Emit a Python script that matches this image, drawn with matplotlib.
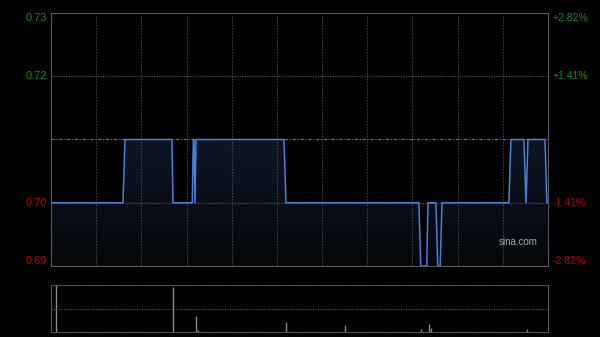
import matplotlib
matplotlib.use("Agg")
import matplotlib.pyplot as plt
import matplotlib.colors as mcolors
import numpy as np

plt.rcParams["font.family"] = ["Liberation Sans", "DejaVu Sans"]

# intraday price (minutes from open, HK session 330 min)
minutes = [0, 47.8, 49.1, 80.3, 81, 93.8, 94.5, 95.0, 95.6, 96.3, 154.7, 156,
           244.3, 245.5, 249.5, 250.3, 255.6, 256.8, 258.4, 259.6,
           304, 305.4, 314, 315.4, 316.7, 328, 329.3]
prices = [0.70, 0.70, 0.71, 0.71, 0.70, 0.70, 0.71, 0.71, 0.70, 0.71, 0.71, 0.70,
          0.70, 0.69, 0.69, 0.70, 0.70, 0.69, 0.69, 0.70,
          0.70, 0.71, 0.71, 0.70, 0.71, 0.71, 0.70]
prev_close = 0.71

vol_minutes = [3, 81, 96, 97.6, 156, 195, 246, 251, 252.4, 316]
volumes = [940, 900, 320, 40, 200, 140, 60, 170, 80, 60]

price_ticks = [0.73, 0.72, 0.70, 0.69]
n_minutes = 330

fig = plt.figure(figsize=(6, 3.37), dpi=100, facecolor="black")
ax = fig.add_axes([51 / 600, 71 / 337, 497 / 600, 253 / 337], facecolor="black")
axv = fig.add_axes([51 / 600, 5 / 337, 497 / 600, 47 / 337], facecolor="black")

# price panel: gradient fill under the line
poly = ax.fill_between(minutes, prices, 0.69, color="none", linewidth=0)
grad_cmap = mcolors.LinearSegmentedColormap.from_list("g", ["#05070a", "#0d1526"])
grad = ax.imshow(np.linspace(0, 1, 100).reshape(-1, 1), cmap=grad_cmap, aspect="auto",
                 extent=[0, n_minutes, 0.69, 0.71], origin="lower", zorder=1)
grad.set_clip_path(poly.get_paths()[0], transform=ax.transData)
ax.plot(minutes, prices, color="#4a80d8", linewidth=1.1, zorder=3)
ax.set_xlim(0, n_minutes)
ax.set_ylim(0.69, 0.73)

for m in range(30, n_minutes, 30):
    ax.axvline(m, color="#404040", linewidth=0.8, linestyle=(0, (1.5, 1.2)), zorder=2)
for y in [0.72, 0.70]:
    ax.axhline(y, color="#5a5a5a", linewidth=0.8, linestyle=(0, (1, 1.2)), zorder=2)
ax.axhline(prev_close, color="#777777", linewidth=0.8, linestyle=(0, (3, 1.5, 1, 1.5)), zorder=2)

for s in ax.spines.values():
    s.set_color("#5a5a5a")
ax.set_xticks([])
ax.set_yticks([])

for y in price_ticks:
    col = "#109010" if y > prev_close else "#c00000"
    va = "top" if y == max(price_ticks) else ("bottom" if y == min(price_ticks) else "center")
    ax.text(-0.008, y, f"{y:.2f}", transform=ax.get_yaxis_transform(), ha="right", va=va,
            color=col, fontsize=8)
    pct = (y - prev_close) / prev_close * 100
    ax.text(1.01, y, f"{pct:+.2f}%", transform=ax.get_yaxis_transform(), ha="left", va=va,
            color=col, fontsize=7.5)

ax.text(0.98, 0.693, "sina.com", transform=ax.get_yaxis_transform(), ha="right", va="bottom",
        color="#aaaaaa", fontsize=7, zorder=4)

# volume panel
axv.vlines(vol_minutes, 0, volumes, color="#8a8a8a", linewidth=1)
axv.set_xlim(0, n_minutes)
axv.set_ylim(0, max(volumes))
axv.axhline(max(volumes) / 2, color="#5a5a5a", linewidth=0.8, linestyle=(0, (1, 1.2)))
axv.set_xticks([])
axv.set_yticks([])
for k in ["left", "right"]:
    axv.spines[k].set_color("#5a5a5a")
for k in ["top", "bottom"]:
    axv.spines[k].set_color("#5a5a5a")
    axv.spines[k].set_linestyle((0, (1, 1.2)))

fig.savefig("out.png", dpi=100, facecolor="black")
